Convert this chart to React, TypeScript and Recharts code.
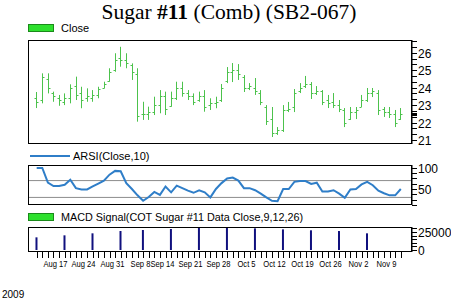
import React from 'react';
import { ComposedChart, Bar, Line, XAxis, YAxis, ReferenceLine } from 'recharts';

// ---- Data ----
const highs = [23.75, 24.82, 24.82, 23.77, 23.58, 23.67, 24.19, 24.63, 24.05, 23.96, 23.86, 24.05, 24.34, 25.11, 25.97, 26.34, 25.97, 25.39, 25.11, 23.19, 22.91, 23.48, 23.86, 23.77, 23.77, 24.34, 24.34, 23.86, 23.67, 23.77, 23.86, 23.39, 23.48, 24.21, 25.18, 25.41, 25.35, 24.72, 24.26, 24.55, 23.86, 23.0, 22.89, 21.74, 23.0, 23.18, 23.92, 24.26, 24.67, 24.32, 24.09, 23.86, 23.58, 23.69, 23.29, 22.83, 22.89, 22.89, 23.58, 23.98, 23.98, 23.86, 22.89, 22.89, 22.72, 22.83];
const lows = [22.83, 23.1, 23.67, 23.19, 22.96, 23.0, 23.1, 23.29, 22.82, 23.19, 23.19, 23.39, 23.96, 24.34, 24.91, 25.2, 25.11, 24.44, 22.05, 22.15, 22.15, 22.43, 22.53, 22.43, 22.91, 23.29, 23.48, 23.29, 23.0, 23.19, 22.62, 22.72, 22.82, 23.18, 24.26, 24.32, 24.44, 23.75, 23.86, 23.58, 23.0, 21.86, 21.17, 21.29, 21.46, 22.6, 22.6, 23.69, 23.98, 23.35, 23.58, 23.0, 22.83, 22.83, 22.6, 21.74, 22.15, 22.2, 22.89, 23.18, 23.46, 22.43, 22.32, 22.26, 21.74, 22.15];
const opens = [23.4, 23.3, 24.5, 23.7, 23.4, 23.2, 23.4, 24.1, 23.7, 23.4, 23.4, 23.6, 24.0, 24.4, 25.0, 25.7, 25.6, 25.3, 24.8, 22.5, 22.5, 22.6, 23.0, 23.5, 22.95, 23.4, 24.0, 23.7, 23.5, 23.3, 23.5, 23.0, 23.1, 23.3, 24.4, 24.9, 25.0, 24.6, 24.0, 24.0, 23.7, 22.9, 22.2, 21.4, 21.6, 22.7, 22.9, 23.8, 24.1, 24.2, 23.7, 23.8, 23.3, 23.2, 23.0, 22.7, 22.2, 22.6, 22.9, 23.3, 23.7, 23.7, 22.8, 22.6, 22.5, 22.2];
const closes = [23.2, 24.6, 24.0, 23.5, 23.3, 23.4, 24.0, 23.6, 23.3, 23.5, 23.6, 23.9, 24.2, 24.9, 25.6, 25.6, 25.4, 24.9, 22.4, 22.5, 22.6, 23.0, 23.5, 22.8, 23.4, 24.0, 23.7, 23.5, 23.2, 23.5, 22.9, 23.1, 23.2, 24.0, 24.9, 25.0, 24.8, 24.0, 24.1, 23.8, 23.2, 22.1, 21.4, 21.6, 22.7, 22.8, 23.7, 24.0, 24.2, 23.7, 23.8, 23.2, 23.1, 23.0, 22.8, 22.0, 22.6, 22.7, 23.3, 23.7, 23.8, 22.7, 22.6, 22.5, 22.0, 22.5];
const rsiValues = [100, 100, 65, 57, 57, 60, 72, 52, 49, 49, 56, 63, 70, 84, 93, 92, 64, 50, 35, 22, 31, 43, 36, 56, 42, 58, 52, 46, 41, 47, 42, 30, 50, 64, 75, 77, 70, 52, 52, 47, 39, 30, 22, 21, 50, 50, 67, 69, 69, 62, 65, 44, 44, 47, 39, 29, 49, 50, 61, 67, 59, 46, 40, 35, 35, 50];
const cotIdx = [0, 5, 10, 15, 19, 24, 29, 34, 39, 44, 49, 54, 59];
const macdValues = [17600, 20400, 23200, 26400, 27800, 29200, 30600, 30600, 30100, 28700, 27400, 26400, 23200];
const dateLabels = ['Aug 17', 'Aug 24', 'Aug 31', 'Sep 8', 'Sep 14', 'Sep 21', 'Sep 28', 'Oct 5', 'Oct 12', 'Oct 19', 'Oct 26', 'Nov 2', 'Nov 9'];
const dateLabelIdx = [3, 8, 13, 18, 22, 27, 32, 37, 42, 47, 52, 57, 62];
const priceTicks = [21, 21.333, 21.667, 22, 22.333, 22.5, 22.667, 23, 23.333, 23.667, 24, 24.333, 24.667, 25, 25.333, 25.667, 26, 26.333, 26.667];
const priceLabels = [21, 22, 23, 24, 25, 26];
const lastPrice = 22.5;
const rsiTicks = [12.5, 25, 37.5, 50, 62.5, 75, 87.5, 100];
const rsiLabels = [50, 100];
const rsiBands = [30, 70];
const cotTicks = [0, 5000, 10000, 15000, 20000, 25000, 30000];
const cotLabels = [0, 25000];

const xDomain: [number, number] = [-1.55, 67.0];
const priceDomain: [number, number] = [20.77, 26.73];
const rsiDomain: [number, number] = [12, 107];
const cotDomain: [number, number] = [-2800, 32000];

const priceData = highs.map((h, i) => ({ i, high: h, low: lows[i], open: opens[i], close: closes[i] }));
const rsiData = rsiValues.map((v, i) => ({ i, rsi: v }));
const cotData = cotIdx.map((i, k) => ({ i, macd: macdValues[k] }));
const allDays = highs.map((_, i) => i);

const FONT = "'Liberation Sans', Arial, sans-serif";
const BAR_GREEN = '#4cc24c';

const OHLCShape = (props: any) => {
  const { x, y, width, height, payload } = props;
  if (x == null || y == null || !payload) return null;
  const top = Math.min(y, y + height);
  const h = Math.abs(height);
  const cx = Math.round(x + width / 2) + 0.5;
  const span = payload.high - payload.low || 1;
  const yOf = (v: number) => Math.round(top + ((payload.high - v) / span) * h) + 0.5;
  return (
    <g stroke={BAR_GREEN} strokeWidth={1}>
      <line x1={cx} x2={cx} y1={top} y2={top + h} />
      <line x1={cx - 2} x2={cx} y1={yOf(payload.open)} y2={yOf(payload.open)} />
      <line x1={cx} x2={cx + 2} y1={yOf(payload.close)} y2={yOf(payload.close)} />
    </g>
  );
};

const makeYTick = (labels: number[], marker?: number) => (props: any) => {
  const { x, y, payload } = props;
  const v = payload.value;
  const yy = Math.round(y) + 0.5;
  const isLabel = labels.some((l) => Math.abs(l - v) < 1e-6);
  const isMarker = marker != null && Math.abs(marker - v) < 1e-6;
  return (
    <g>
      <line x1={x} x2={x + 5} y1={yy} y2={yy} stroke="#000" strokeWidth={isMarker ? 3 : 1} />
      {isLabel && (
        <text x={x + 6} y={yy} dy="0.36em" fontSize={12} fill="#000" fontFamily={FONT}>
          {v}
        </text>
      )}
    </g>
  );
};

const XTick = (props: any) => {
  const { x, y, payload } = props;
  const xx = Math.round(x) + 0.5;
  const k = dateLabelIdx.indexOf(payload.value);
  const label = k >= 0 ? dateLabels[k] : '';
  return (
    <g>
      <line x1={xx} x2={xx} y1={y} y2={y + 6} stroke="#000" strokeWidth={1} />
      {k >= 0 && (
        <text
          transform={`translate(${xx + 2},${y + 15}) scale(1,1.25)`}
          x={0}
          y={0}
          textAnchor="middle"
          fontSize={7.6}
          fill="#000"
          fontFamily={FONT}
        >
          {label}
        </text>
      )}
    </g>
  );
};

export default function App() {
  return (
    <div style={{ position: 'absolute', left: 0, top: 0, width: 451, height: 300, background: '#fff', overflow: 'hidden' }}>
      <div style={{ position: 'absolute', left: 0, top: 0 }}>
        <ComposedChart width={451} height={150} data={priceData} margin={{ top: 40, right: 0, bottom: 6, left: 28 }}>
          <XAxis dataKey="i" type="number" domain={xDomain} allowDataOverflow hide />
          <YAxis
            orientation="right"
            width={39}
            domain={priceDomain}
            allowDataOverflow
            ticks={priceTicks}
            interval={0}
            tickSize={0}
            tickMargin={0}
            tickLine={false}
            axisLine={{ stroke: '#000' }}
            tick={makeYTick(priceLabels, lastPrice)}
          />
          <Bar dataKey={(d: any) => [d.low, d.high]} barSize={5} shape={OHLCShape} isAnimationActive={false} />
        </ComposedChart>
      </div>
      <div style={{ position: 'absolute', left: 0, top: 150 }}>
        <ComposedChart width={451} height={60} data={rsiData} margin={{ top: 15, right: 0, bottom: 5, left: 28 }}>
          <XAxis dataKey="i" type="number" domain={xDomain} allowDataOverflow hide />
          <YAxis
            orientation="right"
            width={39}
            domain={rsiDomain}
            allowDataOverflow
            ticks={rsiTicks}
            interval={0}
            tickSize={0}
            tickMargin={0}
            tickLine={false}
            axisLine={{ stroke: '#000' }}
            tick={makeYTick(rsiLabels)}
          />
          {rsiBands.map((b) => (
            <ReferenceLine key={b} y={b} stroke="#8c8c8c" strokeWidth={1} />
          ))}
          <Line type="linear" dataKey="rsi" stroke="#2f7ec8" strokeWidth={2} dot={false} isAnimationActive={false} />
        </ComposedChart>
      </div>
      <div style={{ position: 'absolute', left: 0, top: 205 }}>
        <ComposedChart width={451} height={95} data={cotData} margin={{ top: 22, right: 0, bottom: 18, left: 28 }}>
          <XAxis
            dataKey="i"
            type="number"
            domain={xDomain}
            allowDataOverflow
            ticks={allDays}
            interval={0}
            height={30}
            tickSize={0}
            tickMargin={0}
            tickLine={false}
            axisLine={false}
            tick={XTick}
          />
          <YAxis
            orientation="right"
            width={39}
            domain={cotDomain}
            allowDataOverflow
            ticks={cotTicks}
            interval={0}
            tickSize={0}
            tickMargin={0}
            tickLine={false}
            axisLine={{ stroke: '#000' }}
            tick={makeYTick(cotLabels)}
          />
          <Bar dataKey="macd" barSize={2} fill="#10107e" isAnimationActive={false} />
        </ComposedChart>
      </div>
      <svg width={451} height={300} style={{ position: 'absolute', left: 0, top: 0, pointerEvents: 'none' }}>
        <text x={229} y={19} textAnchor="middle" fontSize={21.5} fill="#000" fontFamily="'Liberation Serif', 'Times New Roman', serif">
          {'Sugar '}
          <tspan fontWeight="bold">#11</tspan>
          {' (Comb) (SB2-067)'}
        </text>
        <rect x={28.5} y={24.5} width={25} height={7} fill="#2ee02e" stroke="#1a8a1a" />
        <text x={61} y={32} fontSize={11} fill="#000" fontFamily={FONT}>Close</text>
        <rect x={28.5} y={40.5} width={383} height={103} fill="none" stroke="#000" />
        <line x1={30} x2={70} y1={156} y2={156} stroke="#2f7ec8" strokeWidth={2} />
        <text x={73} y={160} fontSize={11} fill="#000" fontFamily={FONT}>ARSI(Close,10)</text>
        <rect x={28.5} y={165.5} width={383} height={39} fill="none" stroke="#000" />
        <rect x={28.5} y={213.5} width={25} height={7} fill="#2ee02e" stroke="#1a8a1a" />
        <text x={61} y={221} fontSize={10.8} fill="#000" fontFamily={FONT}>MACD Signal(COT Sugar #11 Data Close,9,12,26)</text>
        <rect x={28.5} y={227.5} width={383} height={24} fill="none" stroke="#000" />
        <text x={2} y={298} fontSize={10} fill="#000" fontFamily={FONT}>2009</text>
      </svg>
    </div>
  );
}
